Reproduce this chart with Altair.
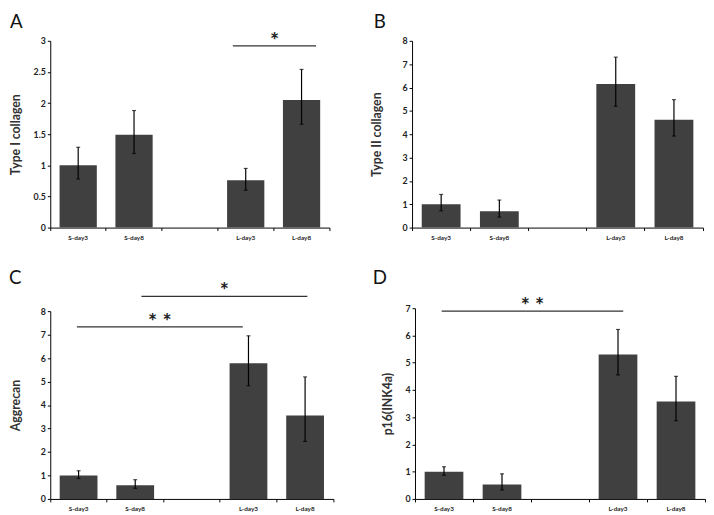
import altair as alt
import pandas as pd

CATS = ["S-day3", "S-day8", " ", "L-day3", "L-day8"]
GROUPS = ["S-day3", "S-day8", "L-day3", "L-day8"]

A_MEAN = [1.0, 1.49, 0.76, 2.05]
A_LOW = [0.78, 1.19, 0.60, 1.66]
A_HIGH = [1.29, 1.88, 0.95, 2.54]

B_MEAN = [1.0, 0.70, 6.15, 4.62]
B_LOW = [0.72, 0.45, 5.20, 3.92]
B_HIGH = [1.42, 1.18, 7.30, 5.48]

C_MEAN = [1.0, 0.58, 5.78, 3.55]
C_LOW = [0.87, 0.45, 4.82, 2.45]
C_HIGH = [1.20, 0.82, 6.95, 5.20]

D_MEAN = [1.0, 0.53, 5.30, 3.58]
D_LOW = [0.87, 0.33, 4.55, 2.87]
D_HIGH = [1.18, 0.92, 6.22, 4.50]

# significance lines: start / end in category slots (0..5), height, label
A_SIG_FROM = [3.27]
A_SIG_TO = [4.76]
A_SIG_Y = [2.92]
A_SIG_TXT = ["*"]

B_SIG_FROM = []
B_SIG_TO = []
B_SIG_Y = []
B_SIG_TXT = []

C_SIG_FROM = [0.47, 1.61]
C_SIG_TO = [3.40, 4.54]
C_SIG_Y = [7.33, 8.63]
C_SIG_TXT = ["* *", "*"]

D_SIG_FROM = [0.46]
D_SIG_TO = [3.59]
D_SIG_Y = [6.89]
D_SIG_TXT = ["* *"]

FONT = "Lato"
BAR = "#404040"


def panel(letter, ytitle, mean, low, high, ymax, ystep, sfrom, sto, sy, stxt,
          width, height, top_gap, letter_x, letter_y, title_x):
    df = pd.DataFrame({"cat": GROUPS, "mean": mean, "low": low, "high": high})
    yvals = [round(i * ystep, 2) for i in range(int(round(ymax / ystep)) + 1)]
    yscale = alt.Scale(domain=[0, ymax], nice=False, zero=True,
                       range=[height, top_gap])
    xscale = alt.Scale(domain=CATS, paddingInner=0, paddingOuter=0)

    xaxis = alt.Axis(title=None, labelAngle=0, labelFont=FONT, labelFontSize=6.5,
                     labelFontWeight="bold", labelColor="#222", domainColor="#000",
                     tickColor="#000", tickSize=3, labelPadding=4,
                     bandPosition=1, tickExtra=True, labelOverlap=False)
    yaxis = alt.Axis(title=ytitle, values=yvals, labelExpr="datum.value", grid=False,
                     labelOverlap=False,
                     labelFont=FONT, labelFontSize=9, labelFontWeight="bold",
                     labelColor="#222", domainColor="#000", tickColor="#000",
                     tickSize=3, labelPadding=2, titleFont=FONT, titleFontSize=12.5,
                     titleFontWeight="bold", titleColor="#333", titleX=title_x,
                     titleBaseline="middle")

    X = alt.X("cat:N", scale=xscale, axis=xaxis, sort=CATS)
    base = alt.Chart(df)
    bars = base.mark_bar(color=BAR, width=alt.RelativeBandSize(0.667)).encode(
        x=X,
        y=alt.Y("mean:Q", scale=yscale, axis=yaxis, title=ytitle),
    )
    err = base.mark_rule(color="#000", strokeWidth=1.2).encode(
        x=X,
        y=alt.Y("low:Q", scale=yscale, axis=yaxis, title=ytitle),
        y2="high:Q",
    )
    cap_hi = base.mark_tick(color="#000", size=4, thickness=1.2).encode(
        x=X,
        y=alt.Y("high:Q", scale=yscale, axis=yaxis, title=ytitle),
    )
    cap_lo = base.mark_tick(color="#000", size=4, thickness=1.2).encode(
        x=X,
        y=alt.Y("low:Q", scale=yscale, axis=yaxis, title=ytitle),
    )
    lab = alt.Chart(pd.DataFrame({"t": [letter]})).mark_text(
        font=FONT, fontSize=19, align="left", baseline="top", color="#111"
    ).encode(x=alt.value(letter_x), y=alt.value(letter_y), text="t:N")

    inner = alt.layer(bars, err, cap_hi, cap_lo, lab)
    if sfrom:
        sdf = pd.DataFrame({"x1": sfrom, "x2": sto, "y": sy, "t": stxt})
        sdf["xm"] = (sdf["x1"] + sdf["x2"]) / 2
        qx = alt.Scale(domain=[0, 5], nice=False, zero=False)
        sline = alt.Chart(sdf).mark_rule(color="#333", strokeWidth=1.3).encode(
            x=alt.X("x1:Q", scale=qx, axis=None),
            x2="x2:Q",
            y=alt.Y("y:Q", scale=yscale, axis=yaxis, title=ytitle),
        )
        stext = alt.Chart(sdf).mark_text(
            font=FONT, fontSize=22, fontWeight="bold", baseline="alphabetic",
            dy=2, color="#222"
        ).encode(
            x=alt.X("xm:Q", scale=qx, axis=None),
            y=alt.Y("y:Q", scale=yscale, axis=yaxis, title=ytitle),
            text="t:N",
        )
        out = alt.layer(inner, alt.layer(sline, stext)).resolve_scale(x="independent")
    else:
        out = inner
    return out.properties(width=width, height=height)


pa = panel("A", "Type I collagen", A_MEAN, A_LOW, A_HIGH, 3, 0.5,
           A_SIG_FROM, A_SIG_TO, A_SIG_Y, A_SIG_TXT, 284, 190, 0, -41, -28, -35)
pb = panel("B", "Type II collagen", B_MEAN, B_LOW, B_HIGH, 8, 1,
           B_SIG_FROM, B_SIG_TO, B_SIG_Y, B_SIG_TXT, 296, 190, 0, -39, -28, -36)
pc = panel("C", "Aggrecan", C_MEAN, C_LOW, C_HIGH, 8, 1,
           C_SIG_FROM, C_SIG_TO, C_SIG_Y, C_SIG_TXT, 288, 194, 3, -42, -40, -35)
pd_ = panel("D", "p16(INK4a)", D_MEAN, D_LOW, D_HIGH, 7, 1,
            D_SIG_FROM, D_SIG_TO, D_SIG_Y, D_SIG_TXT, 295, 194, 0, -43, -40, -28)

row1 = alt.hconcat(pa, pb, spacing=40)
row2 = alt.hconcat(pc, pd_, spacing=38)

chart = alt.vconcat(row1, row2, spacing=27).properties(
    padding={"left": 0, "top": 0, "right": 0, "bottom": 0},
    background="white",
).configure_view(stroke="transparent")

chart.save("out.html", embed_options={"renderer": "svg", "actions": False})
